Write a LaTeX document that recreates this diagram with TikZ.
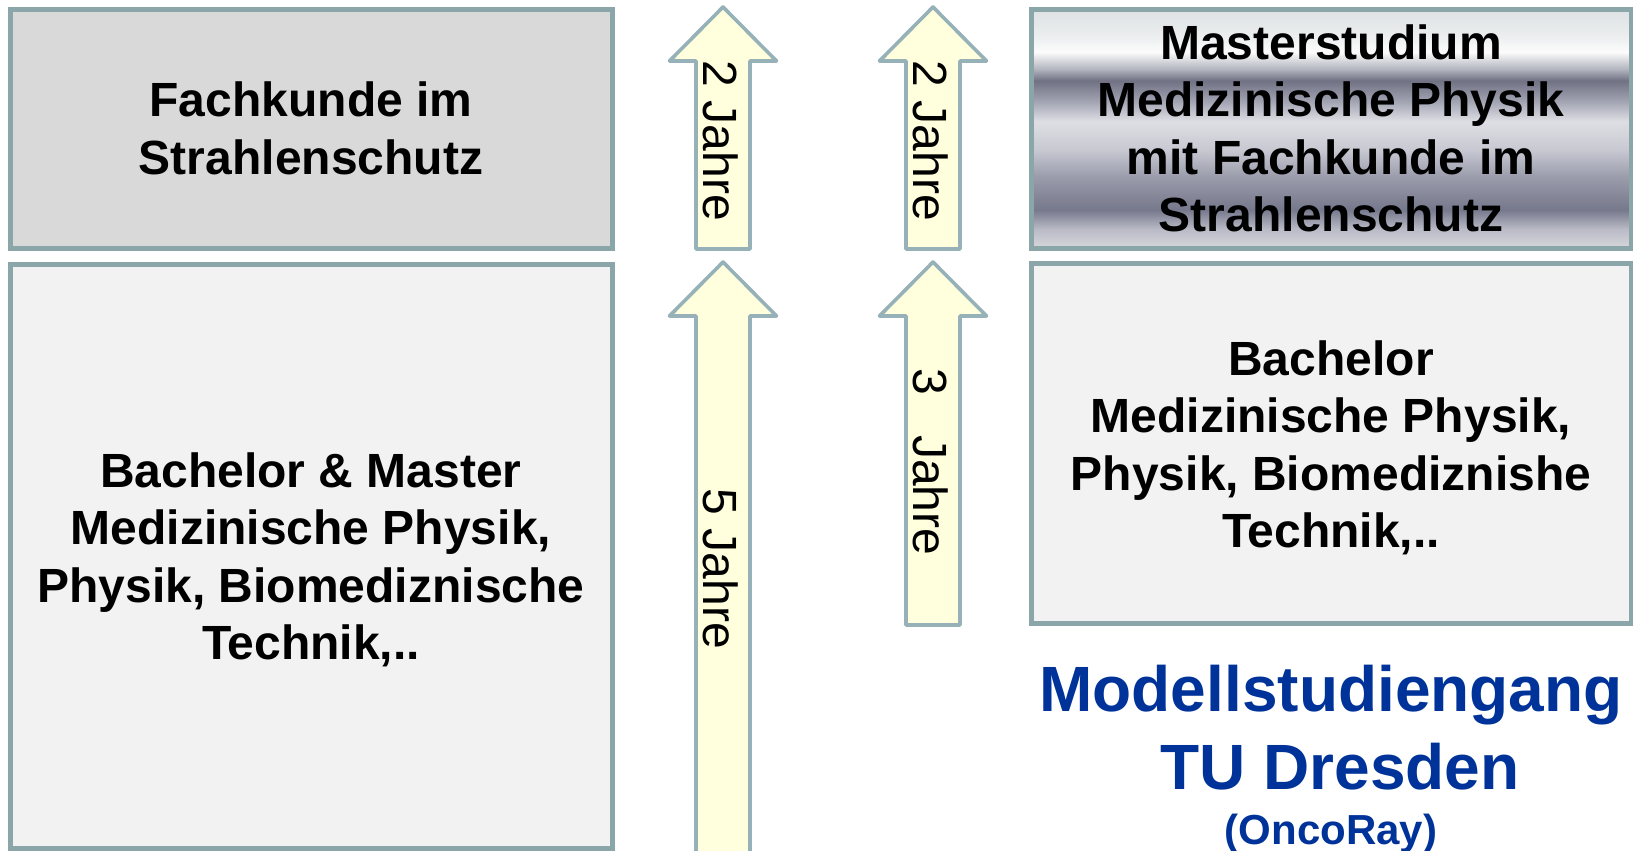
\documentclass[tikz,border=0pt]{standalone}
\usepackage{fontspec}
\setmainfont{Liberation Sans}
\definecolor{boxborder}{RGB}{138,166,168}
\definecolor{arrowborder}{RGB}{150,178,184}
\definecolor{arrowfill}{RGB}{255,255,221}
\definecolor{fkgray}{RGB}{217,217,217}
\definecolor{lightbox}{RGB}{242,242,242}
\definecolor{titleblue}{RGB}{0,51,153}
\definecolor{ch0}{RGB}{222,226,228}
\definecolor{ch1}{RGB}{235,237,238}
\definecolor{ch2}{RGB}{252,252,252}
\definecolor{ch3}{RGB}{180,182,192}
\definecolor{ch4}{RGB}{112,114,132}
\definecolor{ch5}{RGB}{158,160,175}
\definecolor{ch6}{RGB}{222,222,228}
\definecolor{ch7}{RGB}{200,200,210}
\definecolor{ch8}{RGB}{155,157,172}
\definecolor{ch9}{RGB}{118,120,140}
\definecolor{ch10}{RGB}{185,186,198}
\definecolor{ch11}{RGB}{215,215,220}
\pgfdeclareverticalshading{chrome}{100bp}{%
  color(0bp)=(ch11); color(25bp)=(ch11); color(29bp)=(ch10); color(33bp)=(ch9);
  color(40bp)=(ch8); color(45.5bp)=(ch7); color(51.5bp)=(ch6); color(56bp)=(ch5);
  color(60bp)=(ch4); color(62.5bp)=(ch3); color(66bp)=(ch2); color(69.5bp)=(ch1);
  color(75bp)=(ch0); color(100bp)=(ch0)}
\tikzset{
  box/.style={draw=boxborder, line width=2.5pt, inner sep=0pt, align=center,
    font=\bfseries\fontsize{24}{28.75}\selectfont},
  arrowshape/.style={draw=arrowborder, fill=arrowfill, line width=1.8pt, line join=round},
  yeartext/.style={rotate=-90, inner sep=0pt, font=\fontsize{24}{28}\selectfont},
  titletext/.style={anchor=base, inner sep=0pt, text=titleblue, font=\bfseries\fontsize{32}{38}\selectfont},
  boxtext/.style={inner sep=0pt, align=center, font=\bfseries\fontsize{24}{28.75}\selectfont},
}
\newcommand\blockarr[3]{%
  \draw[arrowshape] ({#1-27},{#3}) -- ({#1-27},{#2+54}) -- ({#1-53.5},{#2+54}) --
    ({#1},{#2}) -- ({#1+53.5},{#2+54}) -- ({#1+27},{#2+54}) -- ({#1+27},{#3}) -- cycle;}
\begin{document}
\begin{tikzpicture}[x=0.5pt,y=-0.5pt]
\useasboundingbox (0,0) rectangle (1633,851);
\fill[white] (0,0) rectangle (1633,851);
% left boxes
\node[box, fill=fkgray, minimum width=301pt, minimum height=119.5pt] (fk) at (311,128.5)
  {Fachkunde im\\Strahlenschutz};
\node[box, fill=lightbox, minimum width=301pt, minimum height=292pt] (bm) at (311,556) {};
\node[boxtext] (bmtext) at (311,560)
  {Bachelor \& Master\\Medizinische Physik,\\Physik, Biomediznische\\Technik,..};
% right boxes
\node[box, shading=chrome, minimum width=300pt, minimum height=119.5pt] (ms) at (1331,128.5)
  {Masterstudium\\Medizinische Physik\\mit Fachkunde im\\Strahlenschutz};
\node[box, fill=lightbox, minimum width=300pt, minimum height=180pt] (ba) at (1331,443) {};
\node[boxtext] (batext) at (1331,448)
  {Bachelor\\Medizinische Physik,\\Physik, Biomediznishe\\Technik,..};
% arrows
\blockarr{723}{7}{249}
\blockarr{723}{262}{870}
\blockarr{933}{7}{249}
\blockarr{933}{262}{625}
\node[yeartext] (a1) at (721,141) {2 Jahre};
\node[yeartext] (a2) at (721,569) {5 Jahre};
\node[yeartext] (a3) at (931,141) {2 Jahre};
\node[yeartext] (a4) at (931,462) {3\ \ \ Jahre};
% title
\node[titletext] (t1) at (1331,711) {Modellstudiengang};
\node[titletext] (t2) at (1340,789) {TU Dresden};
\node[titletext, font=\bfseries\fontsize{21}{25}\selectfont] (t3) at (1331,844) {(OncoRay)};
\end{tikzpicture}
\end{document}
